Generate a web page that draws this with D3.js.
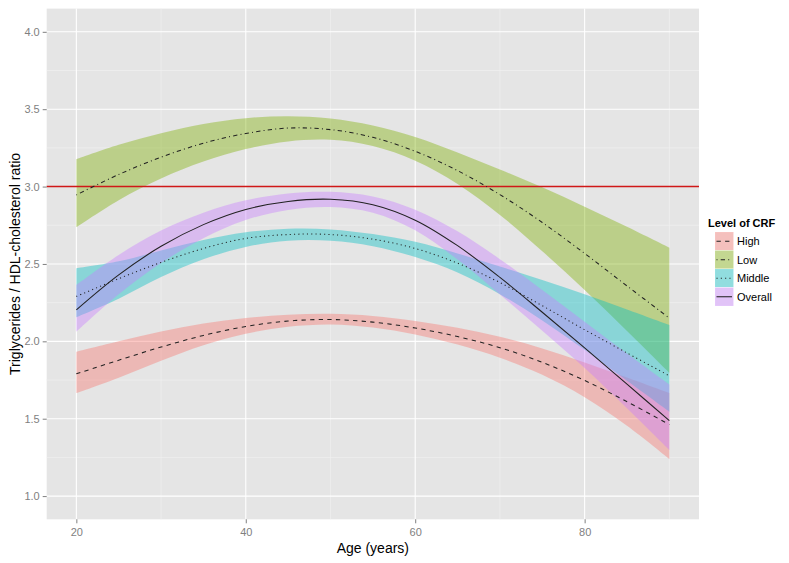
<!DOCTYPE html>
<html><head><meta charset="utf-8">
<script src="https://cdn.jsdelivr.net/npm/d3@7"></script>
<style>body{margin:0;background:#fff}svg{display:block;font-family:"Liberation Sans",Arial,sans-serif}</style>
</head><body><svg id="c" width="789" height="563"></svg>
<script>
const ages = [20,25,30,35,40,45,50,55,60,65,70,75,80,85,90];
const groups = ["High","Low","Middle","Overall"];
const colors = ["#F8766D","#7CAE00","#00BFC4","#C77CFF"];
const highMid = [1.79,1.878,1.963,2.038,2.096,2.131,2.141,2.124,2.086,2.031,1.959,1.864,1.747,1.61,1.462];
const highUp  = [1.933,2.001,2.063,2.115,2.151,2.172,2.178,2.164,2.132,2.087,2.029,1.954,1.864,1.766,1.666];
const highLo  = [1.664,1.764,1.874,1.974,2.049,2.094,2.109,2.089,2.044,1.979,1.894,1.784,1.639,1.454,1.239];
const lowMid = [2.946,3.078,3.19,3.28,3.343,3.378,3.368,3.318,3.228,3.103,2.948,2.768,2.568,2.358,2.15];
const lowUp  = [3.177,3.27,3.345,3.405,3.442,3.455,3.44,3.395,3.32,3.22,3.11,2.995,2.87,2.74,2.605];
const lowLo  = [2.737,2.912,3.052,3.162,3.242,3.292,3.302,3.262,3.167,3.017,2.817,2.582,2.332,2.067,1.797];
const midMid = [2.29,2.405,2.51,2.60,2.665,2.69,2.69,2.66,2.60,2.505,2.38,2.23,2.075,1.925,1.777];
const midUp  = [2.472,2.517,2.587,2.655,2.705,2.727,2.723,2.693,2.643,2.568,2.483,2.396,2.304,2.206,2.106];
const midLo  = [2.155,2.275,2.415,2.53,2.61,2.65,2.65,2.615,2.545,2.445,2.305,2.135,1.945,1.745,1.545];
const allMid = [2.203,2.429,2.614,2.754,2.852,2.904,2.918,2.883,2.783,2.618,2.413,2.188,1.958,1.723,1.488];
const allUp  = [2.364,2.558,2.716,2.831,2.911,2.956,2.966,2.936,2.851,2.711,2.531,2.331,2.126,1.921,1.721];
const allLo  = [2.062,2.304,2.506,2.666,2.784,2.849,2.868,2.831,2.718,2.528,2.303,2.068,1.828,1.568,1.298];
const xTicks = [20,40,60,80];
const yTicks = [1.0,1.5,2.0,2.5,3.0,3.5,4.0];
const refLine = 3.0;
const dashes = ["4.3,4.3","1,3.2,4.3,3.2","1.1,3.2",null];

const series = [
  {name:"High", mid:highMid, up:highUp, lo:highLo},
  {name:"Low", mid:lowMid, up:lowUp, lo:lowLo},
  {name:"Middle", mid:midMid, up:midUp, lo:midLo},
  {name:"Overall", mid:allMid, up:allUp, lo:allLo}
];

const svg = d3.select("#c");
const L=46.7, R=699, T=8.6, B=519.3;
const x = d3.scaleLinear().domain([16.5,93.5]).range([L,R]);
const y = d3.scaleLinear().domain([0.85,4.15]).range([B,T]);

svg.append("rect").attr("x",L).attr("y",T).attr("width",R-L).attr("height",B-T).attr("fill","#E5E5E5");
const xMinor=[30,50,70,90], yMinor=[1.25,1.75,2.25,2.75,3.25,3.75];
svg.append("g").selectAll("line").data(xMinor).join("line")
  .attr("x1",d=>x(d)).attr("x2",d=>x(d)).attr("y1",T).attr("y2",B).attr("stroke","#F2F2F2").attr("stroke-width",0.6);
svg.append("g").selectAll("line").data(yMinor).join("line")
  .attr("y1",d=>y(d)).attr("y2",d=>y(d)).attr("x1",L).attr("x2",R).attr("stroke","#F2F2F2").attr("stroke-width",0.6);
svg.append("g").selectAll("line").data(xTicks).join("line")
  .attr("x1",d=>x(d)).attr("x2",d=>x(d)).attr("y1",T).attr("y2",B).attr("stroke","#fff").attr("stroke-width",1.1);
svg.append("g").selectAll("line").data(yTicks).join("line")
  .attr("y1",d=>y(d)).attr("y2",d=>y(d)).attr("x1",L).attr("x2",R).attr("stroke","#fff").attr("stroke-width",1.1);

const curve = d3.curveCatmullRom.alpha(0.5);
const area = d3.area().x((d,i)=>x(ages[i])).y0(d=>y(d[0])).y1(d=>y(d[1])).curve(curve);
const line = d3.line().x((d,i)=>x(ages[i])).y(d=>y(d)).curve(curve);

series.forEach((s,k)=>{
  svg.append("path").datum(s.lo.map((v,i)=>[v,s.up[i]])).attr("d",area)
    .attr("fill",colors[k]).attr("fill-opacity",0.4);
});
svg.append("line").attr("x1",L).attr("x2",R).attr("y1",y(refLine)).attr("y2",y(refLine))
  .attr("stroke","#D01818").attr("stroke-width",1.4);
series.forEach((s,k)=>{
  const p=svg.append("path").datum(s.mid).attr("d",line).attr("fill","none")
    .attr("stroke","#222").attr("stroke-width",1.05);
  if(dashes[k]) p.attr("stroke-dasharray",dashes[k]);
});

const xa = d3.axisBottom(x).tickValues(xTicks).tickSize(4).tickPadding(5).tickFormat(d3.format("d"));
const gx = svg.append("g").attr("transform",`translate(0,${B})`).call(xa);
const ya = d3.axisLeft(y).tickValues(yTicks).tickSize(4).tickPadding(3).tickFormat(d3.format(".1f"));
const gy = svg.append("g").attr("transform",`translate(${L},0)`).call(ya);
[gx,gy].forEach(g=>{
  g.select(".domain").remove();
  g.selectAll(".tick line").attr("stroke","#7F7F7F");
  g.selectAll(".tick text").attr("fill","#7F7F7F").style("font-size","11px").style("font-family","Liberation Sans, Arial, sans-serif");
});

svg.append("text").attr("x",(L+R)/2).attr("y",553).attr("text-anchor","middle")
  .style("font-size","14px").attr("fill","#000").text("Age (years)");
svg.append("text").attr("transform",`translate(20,${(T+B)/2}) rotate(-90)`).attr("text-anchor","middle")
  .style("font-size","14px").attr("fill","#000").text("Triglycerides / HDL-cholesterol ratio");

const lg = svg.append("g");
lg.append("text").attr("x",708).attr("y",227).style("font-size","11px").style("font-weight","bold").text("Level of CRF");
const ks=18.5, k0=232;
groups.forEach((g,k)=>{
  const yy=k0+k*ks;
  lg.append("rect").attr("x",715).attr("y",yy).attr("width",ks).attr("height",ks).attr("fill","#F2F2F2").attr("stroke","#fff").attr("stroke-width",0.8);
  lg.append("rect").attr("x",715).attr("y",yy).attr("width",ks).attr("height",ks).attr("fill",colors[k]).attr("fill-opacity",0.4);
  const l=lg.append("line").attr("x1",716.5).attr("x2",715+ks-1.5).attr("y1",yy+ks/2).attr("y2",yy+ks/2).attr("stroke","#222").attr("stroke-width",1.05);
  if(dashes[k]) l.attr("stroke-dasharray",dashes[k]);
  lg.append("text").attr("x",737).attr("y",yy+ks/2+4).style("font-size","11px").text(g);
});
</script></body></html>
